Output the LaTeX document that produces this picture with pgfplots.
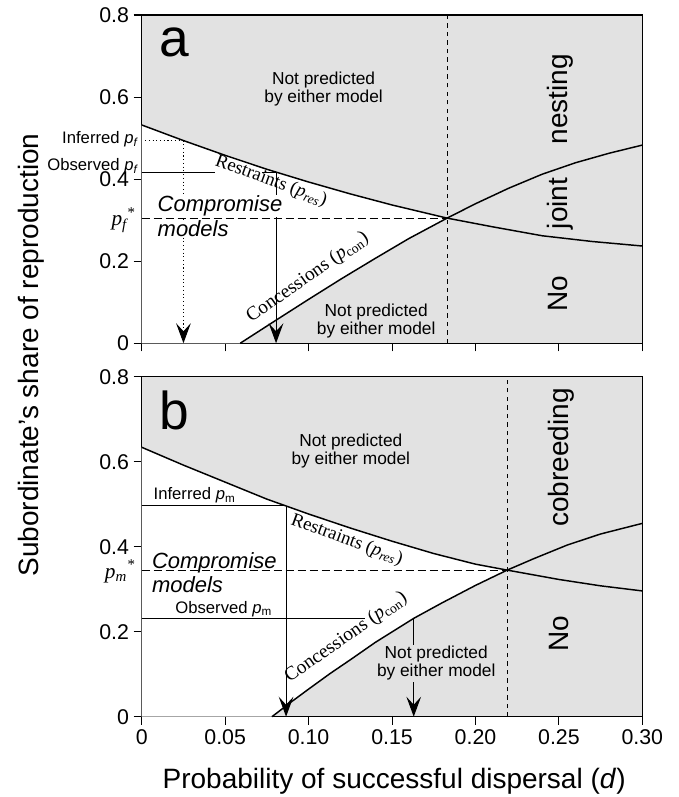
\documentclass[border=0pt]{standalone}
\usepackage{fontspec}
\setmainfont{Liberation Sans}
\newfontfamily\serifrm{Liberation Serif}
\usepackage{pgfplots}
\pgfplotsset{compat=1.18}
\usetikzlibrary{arrows.meta}
\definecolor{shade}{gray}{0.885}
\newcommand{\fs}[1]{\fontsize{#1}{#1}\selectfont}
\begin{document}
\begin{tikzpicture}
\useasboundingbox (0,0) rectangle (509.25pt,597.75pt);
\pgfplotsset{
  panel/.style={scale only axis, width=375.45pt, anchor=south west,
    xmin=0, xmax=0.30, ymin=0, ymax=0.8,
    xtick={0,0.05,0.10,0.15,0.20,0.25,0.30},
    ytick={0,0.2,0.4,0.6,0.8}, yticklabels={0,0.2,0.4,0.6,0.8},
    tick align=outside, tick pos=left, major tick length=6pt,
    axis line style={line width=0.8pt},
    every tick/.style={line width=0.8pt, black},
    tick label style={font=\fs{16}},
    axis background/.style={fill=shade}, clip=false},
  curve/.style={line width=1.1pt, black},
  guide/.style={line width=0.8pt, black},
  arr/.style={-{Stealth[length=15pt,width=11pt,inset=6pt]}},
  vdash/.style={line width=0.9pt, dash pattern=on 3.2pt off 3.2pt},
  hdash/.style={line width=0.8pt, dash pattern=on 6pt off 3pt},
}
% ---------------- panel a ----------------
\begin{axis}[panel, at={(106.3pt,340.3pt)}, height=246.2pt, xticklabels={}]
\addplot[fill=white, draw=none] coordinates {(0,0) (0.059,0) (0.08,0.055) (0.10,0.107) (0.12,0.158) (0.14,0.207) (0.16,0.255) (0.183,0.305) (0.15,0.337) (0.125,0.364) (0.1,0.393) (0.075,0.424) (0.05,0.458) (0.025,0.494) (0,0.532)};
\addplot[curve] coordinates {(0,0.532) (0.025,0.494) (0.05,0.458) (0.075,0.424) (0.1,0.393) (0.125,0.364) (0.15,0.337) (0.183,0.305) (0.21,0.284) (0.24,0.262) (0.27,0.248) (0.30,0.237)};
\addplot[curve] coordinates {(0.059,0) (0.08,0.055) (0.10,0.107) (0.12,0.158) (0.14,0.207) (0.16,0.255) (0.183,0.305) (0.20,0.340) (0.22,0.378) (0.24,0.412) (0.26,0.440) (0.28,0.463) (0.30,0.483)};
\addplot[vdash] coordinates {(0.183,0) (0.183,0.8)};
\addplot[hdash] coordinates {(0,0.304) (0.183,0.304)};
\addplot[guide, dotted] coordinates {(0.002,0.494) (0.025,0.494)};
\addplot[guide, dotted, arr] coordinates {(0.025,0.494) (0.025,0)};
\addplot[guide] coordinates {(0,0.416) (0.044,0.416)};
\addplot[guide] coordinates {(0.072,0.416) (0.0805,0.416)};
\addplot[guide, arr] coordinates {(0.0805,0.416) (0.0805,0)};
\node[anchor=base west, font=\fs{40}] at (axis cs:0.008,0.700) {a};
\node[align=center, font=\fontsize{13}{13.5}\selectfont] at (axis cs:0.109,0.620) {Not predicted\\by either model};
\node[align=center, font=\fontsize{13}{13.5}\selectfont] at (axis cs:0.1405,0.054) {Not predicted\\by either model};
\node[anchor=base west, font=\fs{16.5}\itshape, fill=white, inner sep=0.5pt] at (axis cs:0.009,0.321) {Compromise};
\node[anchor=base west, font=\fs{16.5}\itshape, fill=white, inner sep=0.5pt] at (axis cs:0.009,0.260) {models};
\node[rotate=-20, font=\serifrm\fs{14}] at (axis cs:0.0775,0.395) {Restraints (\textit{p}\textsubscript{\textit{res}})};
\node[rotate=35, font=\serifrm\fs{14.5}] at (axis cs:0.0995,0.160) {Concessions (\textit{p}\textsubscript{con})};
\node[rotate=90, anchor=base, font=\fs{21}] at (axis cs:0.2552,0.595) {nesting};
\node[rotate=90, anchor=base, font=\fs{21}] at (axis cs:0.2552,0.341) {joint};
\node[rotate=90, anchor=base, font=\fs{21}] at (axis cs:0.2552,0.120) {No};
\node[anchor=base east, font=\fs{12.5}, inner sep=1pt] at (axis cs:-0.001,0.4857) {Inferred \textit{p}\textsubscript{\textit{f}}};
\node[anchor=base east, font=\fs{12.5}, inner sep=1pt] at (axis cs:-0.001,0.4206) {Observed \textit{p}\textsubscript{\textit{f}}};
\node[anchor=base east, font=\serifrm\itshape\fs{16}, inner sep=1pt] at (axis cs:-0.003,0.286) {p\textsubscript{f}\textsuperscript{*}};
\end{axis}
% ---------------- panel b ----------------
\begin{axis}[panel, at={(106.3pt,60.2pt)}, height=255pt, xticklabels={0,0.05,0.10,0.15,0.20,0.25,0.30}]
\addplot[fill=white, draw=none] coordinates {(0,0) (0.078,0) (0.09,0.036) (0.10,0.065) (0.113,0.102) (0.125,0.134) (0.14,0.175) (0.163,0.2315) (0.18,0.268) (0.20,0.309) (0.219,0.345) (0.2,0.359) (0.175,0.384) (0.15,0.413) (0.125,0.444) (0.1,0.477) (0.075,0.512) (0.05,0.552) (0.025,0.592) (0,0.634)};
\addplot[curve] coordinates {(0,0.634) (0.025,0.592) (0.05,0.552) (0.075,0.512) (0.1,0.477) (0.125,0.444) (0.15,0.413) (0.175,0.384) (0.2,0.359) (0.219,0.345) (0.25,0.323) (0.275,0.308) (0.30,0.296)};
\addplot[curve] coordinates {(0.078,0) (0.09,0.036) (0.10,0.065) (0.113,0.102) (0.125,0.134) (0.14,0.175) (0.163,0.2315) (0.18,0.268) (0.20,0.309) (0.219,0.345) (0.235,0.372) (0.255,0.404) (0.275,0.430) (0.30,0.455)};
\addplot[vdash] coordinates {(0.219,0) (0.219,0.8)};
\addplot[hdash] coordinates {(0,0.345) (0.219,0.345)};
\addplot[guide] coordinates {(0,0.496) (0.0865,0.496)};
\addplot[guide, arr] coordinates {(0.0865,0.496) (0.0865,0)};
\addplot[guide] coordinates {(0,0.2315) (0.134,0.2315)};
\addplot[guide, arr] coordinates {(0.163,0.2315) (0.163,0)};
\node[anchor=base west, font=\fs{40}] at (axis cs:0.008,0.675) {b};
\node[align=center, font=\fontsize{13}{13.5}\selectfont] at (axis cs:0.1253,0.625) {Not predicted\\by either model};
\node[align=center, font=\fontsize{13}{13.5}\selectfont, fill=shade, inner sep=1pt] at (axis cs:0.1765,0.126) {Not predicted\\by either model};
\node[anchor=base west, font=\fs{12.5}, inner sep=0pt] at (axis cs:0.007,0.510) {Inferred \textit{p}\textsubscript{m}};
\node[anchor=base west, font=\fs{12.5}, inner sep=0pt] at (axis cs:0.020,0.243) {Observed \textit{p}\textsubscript{m}};
\node[anchor=base west, font=\fs{16.5}\itshape, inner sep=0pt] at (axis cs:0.006,0.349) {Compromise};
\node[anchor=base west, font=\fs{16.5}\itshape, inner sep=0pt] at (axis cs:0.006,0.293) {models};
\node[rotate=-20, font=\serifrm\fs{14}] at (axis cs:0.1229,0.416) {Restraints (\textit{p}\textsubscript{\textit{res}})};
\node[rotate=35, font=\serifrm\fs{14.5}] at (axis cs:0.1225,0.186) {Concessions (\textit{p}\textsubscript{con})};
\node[rotate=90, anchor=base, font=\fs{21}] at (axis cs:0.2557,0.610) {cobreeding};
\node[rotate=90, anchor=base, font=\fs{21}] at (axis cs:0.2557,0.196) {No};
\node[anchor=base east, font=\serifrm\itshape\fs{16}, inner sep=1pt] at (axis cs:-0.003,0.326) {p\textsubscript{m}\textsuperscript{*}};
\end{axis}
\node[anchor=base, font=\fs{21}] at (295.6pt,6.5pt) {Probability of successful dispersal (\textit{d})};
\node[rotate=90, anchor=base, font=\fs{21}] at (28.5pt,331.5pt) {Subordinate's share of reproduction};
\end{tikzpicture}
\end{document}
